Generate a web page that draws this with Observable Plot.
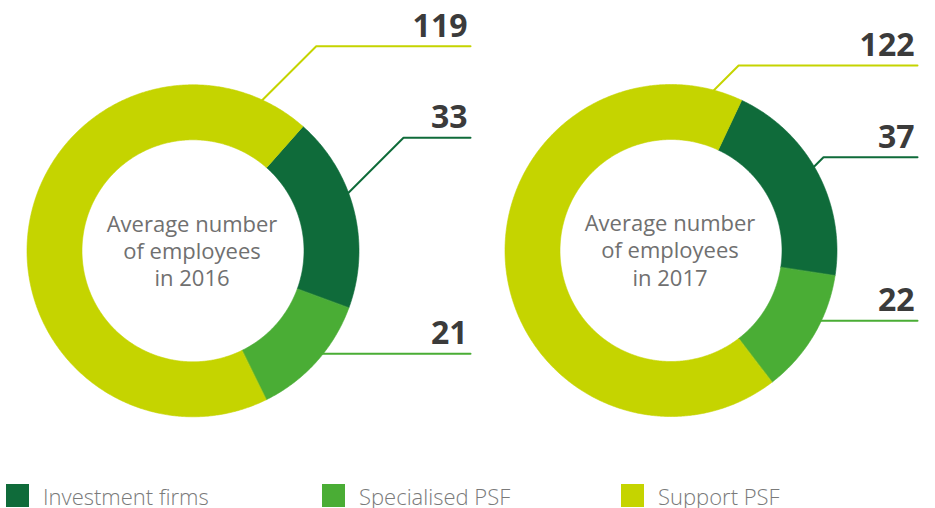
<!DOCTYPE html>
<html><head><meta charset="utf-8">
<script src="https://cdn.jsdelivr.net/npm/d3@7"></script>
<script src="https://cdn.jsdelivr.net/npm/@observablehq/plot@0.6"></script>
<style>body{margin:0;background:#fff;font-family:"Open Sans",sans-serif}</style>
</head><body><div id="chart"></div>
<script>
// ---- data ----
const categories = ["Investment firms", "Specialised PSF", "Support PSF"];
const years = ["2016", "2017"];
const values2016 = [33, 21, 119];
const values2017 = [37, 22, 122];
const colors = ["#0f6b3a", "#4aad35", "#c5d400"];

// ---- layout ----
const W = 935, H = 508;
const centers = [[192.5, 250.3], [670.5, 250]];
const R = 166, RI = 111;
const startAngles = [41.5, 25.2];
const labelLineY = [[137.3, 353.3, 45.7], [156.7, 320.3, 65]];
const anchorAngles = [[69.7, null, 24.6], [59.7, null, 14.8]];
const labelRight = [470, 917];
const legendX = [6, 322, 621];

const series = [values2016, values2017];
const rad = a => a * Math.PI / 180;

const arcPts = [];
const leaderPts = [];
const numbers = [];
series.forEach((vals, k) => {
  const [cx, cy] = centers[k];
  const total = d3.sum(vals);
  let a = startAngles[k];
  vals.forEach((v, i) => {
    const span = v / total * 360;
    const a0 = a, a1 = a + span; a = a1;
    const n = Math.max(2, Math.ceil(span / 0.5));
    const key = years[k] + "-" + i;
    for (let j = 0; j <= n; j++) {
      const t = rad(a0 + (a1 - a0) * j / n);
      arcPts.push({key, cat: categories[i], x: cx + R * Math.sin(t), y: cy - R * Math.cos(t)});
    }
    for (let j = n; j >= 0; j--) {
      const t = rad(a0 + (a1 - a0) * j / n);
      arcPts.push({key, cat: categories[i], x: cx + RI * Math.sin(t), y: cy - RI * Math.cos(t)});
    }
    // leader
    const Ly = labelLineY[k][i];
    const aa = anchorAngles[k][i];
    const xr = labelRight[k];
    if (aa == null) {
      const x0 = cx + Math.sqrt(R * R - (Ly - cy) * (Ly - cy)) - 1;
      leaderPts.push({key, cat: categories[i], x: x0, y: Ly}, {key, cat: categories[i], x: xr, y: Ly});
    } else {
      const ax = cx + (R - 1) * Math.sin(rad(aa)), ay = cy - (R - 1) * Math.cos(rad(aa));
      const ex = ax + (ay - Ly);
      leaderPts.push({key, cat: categories[i], x: ax, y: ay}, {key, cat: categories[i], x: ex, y: Ly}, {key, cat: categories[i], x: xr, y: Ly});
    }
    numbers.push({value: v, x: xr - 3, y: Ly - 9.5});
  });
});

const centerLabels = years.map((yr, k) => ({text: "Average number\nof employees\nin " + yr, x: centers[k][0] - 1, y: centers[k][1] + 35}));
const legend = categories.map((c, i) => ({cat: c, x: legendX[i]}));

const chart = Plot.plot({
  width: W, height: H, margin: 0,
  x: {domain: [0, W], range: [0, W], axis: null},
  y: {domain: [0, H], range: [0, H], axis: null},
  color: {domain: categories, range: colors},
  style: {fontFamily: "'Open Sans', sans-serif", background: "#fff"},
  marks: [
    Plot.line(arcPts, {x: "x", y: "y", z: "key", fill: "cat", stroke: "cat", strokeWidth: 0.6, curve: "linear-closed"}),
    Plot.line(leaderPts, {x: "x", y: "y", z: "key", stroke: "cat", strokeWidth: 2, strokeLinejoin: "miter", curve: "linear"}),
    Plot.text(numbers, {x: "x", y: "y", text: d => String(d.value), textAnchor: "end", lineAnchor: "bottom", fontSize: 32, fontWeight: 700, fill: "#3b3b3b"}),
    Plot.text(centerLabels, {x: "x", y: "y", text: "text", textAnchor: "middle", lineAnchor: "bottom", lineHeight: 1.23, fontSize: 22, fill: "#707070"}),
    Plot.rect(legend, {x1: "x", x2: d => d.x + 23, y1: 484, y2: 507, fill: "cat"}),
    Plot.text(legend, {x: d => d.x + 36.5, y: 504, text: "cat", textAnchor: "start", lineAnchor: "bottom", fontSize: 22, fontWeight: 300, fill: "#7a7a7a"})
  ]
});
document.getElementById("chart").appendChild(chart);
</script>
</body></html>
